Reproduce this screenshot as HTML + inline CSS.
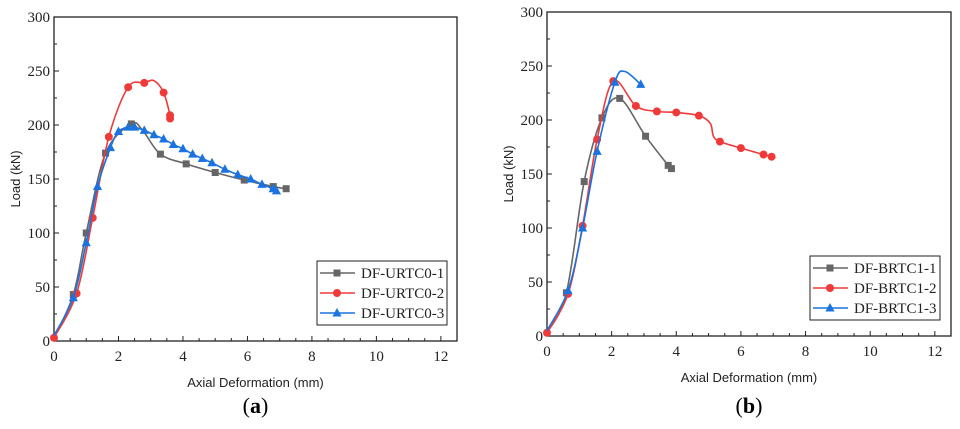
<!DOCTYPE html>
<html><head><meta charset="utf-8"><style>
body{margin:0;background:#fff;width:960px;height:429px;overflow:hidden}
svg{display:block}
.tk{font-family:"Liberation Serif",serif;font-size:15px;fill:#222}
.ax{font-family:"Liberation Sans",sans-serif;font-size:13px;fill:#222}
.lg{font-family:"Liberation Serif",serif;font-size:15px;fill:#222}
.cap{font-family:"Liberation Serif",serif;font-size:22px;fill:#000}
</style></head><body>
<svg id="s" width="960" height="429"></svg>
<script>
const xTicks=[0,2,4,6,8,10,12];
const yTicks=[0,50,100,150,200,250,300];
const aNames=["DF-URTC0-1","DF-URTC0-2","DF-URTC0-3"];
const aX1=[0,0.6,1,1.6,2.4,2.75,3.3,4.1,5,5.9,6.8,7.2];
const aY1=[3,43,100,174,201,195,173,164,156,149,143,141];
const aX2=[0,0.7,1.2,1.7,2.3,2.8,3.1,3.4,3.6,3.6];
const aY2=[3,44,114,189,235,239,241,230,209,206];
const aX3=[0,0.6,1,1.35,1.75,2,2.3,2.5,2.8,3.1,3.4,3.7,4,4.3,4.6,4.9,5.3,5.7,6.1,6.45,6.8,6.9];
const aY3=[5,40,91,143,179,194,198,198,195,191,187,182,178,173,169,165,159,154,150,145,141,139];
const bNames=["DF-BRTC1-1","DF-BRTC1-2","DF-BRTC1-3"];
const bX1=[0,0.6,1.15,1.7,2.25,3.05,3.75,3.85];
const bY1=[3,40,143,202,220,185,158,155];
const bX2=[0,0.65,1.1,1.55,2.05,2.75,3.4,4,4.7,5.05,5.15,5.35,6,6.7,6.95];
const bY2=[3,39,102,182,236,213,208,207,204,197,185,180,174,168,166];
const bX3=[0,0.65,1.1,1.55,2.1,2.4,2.9];
const bY3=[5,42,100,171,235,245,233];
const NS="http://www.w3.org/2000/svg";
const svg=document.getElementById('s');
function mk(t,a,p){const e=document.createElementNS(NS,t);for(const k in a)e.setAttribute(k,a[k]);(p||svg).appendChild(e);return e;}
function panel(cfg){
  const {L,R,T,B,names,series,cap,lg,id,skip}=cfg;
  const g=mk('g',{});
  
  
  const sx=v=>L+v/12.5*(R-L), sy=v=>B-v/300*(B-T);
  const fr=mk('rect',{x:L,y:T,width:R-L,height:B-T,fill:'none',stroke:'#222','stroke-width':1.3},g);
  
  
  for(let i=0;i<=25;i++){const v=i*0.5,x=sx(v);mk('line',{x1:x,x2:x,y1:B,y2:B-(i%4==0?5:3),stroke:'#222'},g);}
  for(let i=0;i<=12;i++){const v=i*25,y=sy(v);mk('line',{x1:L,x2:L+(i%2==0?5:3),y1:y,y2:y,stroke:'#222'},g);}
  xTicks.forEach(v=>{const t=mk('text',{x:sx(v),y:B+20,'text-anchor':'middle',class:'tk'},g);t.textContent=v;
    });
  yTicks.forEach(v=>{const t=mk('text',{x:L-4,y:sy(v)+5,'text-anchor':'end',class:'tk'},g);t.textContent=v;
    });
  const xt=mk('text',{x:(L+R)/2,y:B+46,'text-anchor':'middle',class:'ax'},g);xt.textContent='Axial Deformation (mm)';
  
  const yt=mk('text',{x:0,y:0,'text-anchor':'middle',class:'ax',transform:`translate(${L-34},${(T+B)/2}) rotate(-90)`},g);yt.textContent='Load (kN)';
  
  const cols=['#666','#f03a3a','#1a73e0'];
  const marker=(k,x,y,p)=>{let e;
    if(k==0)e=mk('rect',{x:x-3.5,y:y-3.5,width:7,height:7,fill:cols[0]},p);
    else if(k==1)e=mk('circle',{cx:x,cy:y,r:4,fill:cols[1]},p);
    else e=mk('path',{d:`M${x},${y-5}L${x+4.6},${y+3.5}L${x-4.6},${y+3.5}Z`,fill:cols[2]},p);
    };
  series.forEach((s,k)=>{
    const P=s[0].map((v,i)=>[sx(v),sy(s[1][i])]);
    let d=`M${P[0][0]},${P[0][1]}`;
    for(let i=0;i<P.length-1;i++){const p0=P[Math.max(0,i-1)],p1=P[i],p2=P[i+1],p3=P[Math.min(P.length-1,i+2)];
      d+=`C${p1[0]+(p2[0]-p0[0])/6},${p1[1]+(p2[1]-p0[1])/6} ${p2[0]-(p3[0]-p1[0])/6},${p2[1]-(p3[1]-p1[1])/6} ${p2[0]},${p2[1]}`;}
    const ln=mk('path',{d,fill:'none',stroke:cols[k],'stroke-width':1.6},g);
    
    P.forEach((p,i)=>{if((i>0||k==1)&&!skip[k].includes(i))marker(k,p[0],p[1],g);});
  });
  const lgG=mk('g',{},g);
  
  mk('rect',{x:lg[0],y:lg[1],width:lg[2],height:64,fill:'#fff',stroke:'#222'},lgG);
  names.forEach((n,k)=>{const y=lg[1]+12+k*20;
    const e=mk('g',{},lgG);
    mk('line',{x1:lg[0]+3,x2:lg[0]+38,y1:y,y2:y,stroke:cols[k],'stroke-width':1.6},e);
    marker(k,lg[0]+20,y,e);
    const t=mk('text',{x:lg[0]+44,y:y+5,class:'lg'},e);t.textContent=n;});
  const c=mk('text',{x:(L+R)/2,y:413,'text-anchor':'middle',class:'cap'},g);
  c.innerHTML='(<tspan font-weight="bold">'+cap+'</tspan>)';
  
}
panel({id:'a',L:54,R:457,T:17,B:341,names:aNames,series:[[aX1,aY1],[aX2,aY2],[aX3,aY3]],cap:'a',lg:[317,261,130],skip:[[5],[6],[]]});
panel({id:'b',L:547,R:951,T:12,B:336,names:bNames,series:[[bX1,bY1],[bX2,bY2],[bX3,bY3]],cap:'b',lg:[810,256,130],skip:[[],[9,10],[5]]});
</script>
</body></html>
